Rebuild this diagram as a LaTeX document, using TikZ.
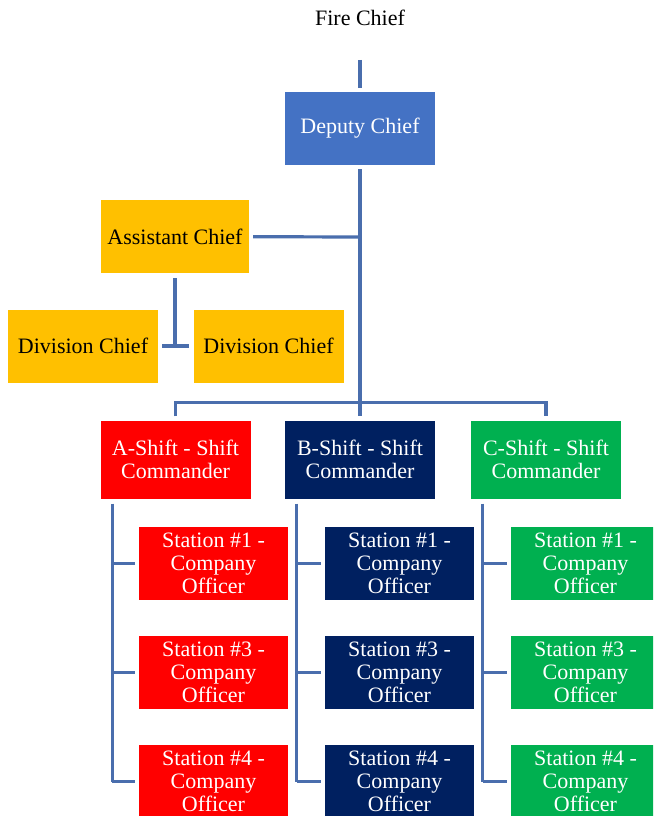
\documentclass[tikz,border=0pt]{standalone}
\usepackage{fontspec}
\setmainfont{Liberation Serif}
\newfontfamily\orgfont{Liberation Serif}
\usepackage{xcolor}
\usepackage{tikz}
\usetikzlibrary{positioning}
\definecolor{cBlue}{HTML}{4472C4}
\definecolor{cGold}{HTML}{FFC000}
\definecolor{cRed}{HTML}{FF0000}
\definecolor{cNavy}{HTML}{002060}
\definecolor{cGreen}{HTML}{00B050}
\definecolor{cLink}{HTML}{4A6EAD}
\begin{document}
\begin{tikzpicture}[x=1pt, y=-1pt,
  box/.style={rectangle, minimum width=150pt, minimum height=73pt, inner sep=0pt, align=center, text=white, font=\orgfont\fontsize{22}{23}\selectfont},
  gold/.style={box, fill=cGold, text=black},
  shiftbox/.style={box, minimum height=78pt},
  stn/.style={box, minimum width=149pt},
  link/.style={draw=cLink, line width=3.2pt},
  gap/.style={shorten >=4pt}]
\useasboundingbox (0,0) rectangle (653,816);
\clip (0,0) rectangle (653,816);
\node[font=\orgfont\fontsize{22}{24}\selectfont] (fc) at (360,18) {Fire Chief};
\coordinate (fcend) at (360,60);
\node[box, fill=cBlue] (dc) at (360,128.5) {Deputy Chief};
\node[gold, minimum width=148pt] (ac) at (175,236.5) {Assistant Chief};
\node[gold] (dv1) at (83,346) {Division Chief};
\node[gold] (dv2) at (268.5,346) {Division Chief};
\coordinate (hub) at (360,237);
\coordinate (bar) at (360,402.5);
\node[shiftbox, fill=cRed] (sa) at (175.5,459.5) {A-Shift - Shift\\Commander};
\node[shiftbox, fill=cNavy] (sb) at (360,459.5) {B-Shift - Shift\\Commander};
\node[shiftbox, fill=cGreen] (sc) at (546,459.5) {C-Shift - Shift\\Commander};
\node[stn, fill=cRed] (a1) at (213.5,563.5) {Station \#1 -\\Company\\Officer};
\node[stn, fill=cRed] (a3) at (213.5,672.5) {Station \#3 -\\Company\\Officer};
\node[stn, fill=cRed] (a4) at (213.5,781.5) {Station \#4 -\\Company\\Officer};
\node[stn, fill=cNavy] (b1) at (399.5,563.5) {Station \#1 -\\Company\\Officer};
\node[stn, fill=cNavy] (b3) at (399.5,672.5) {Station \#3 -\\Company\\Officer};
\node[stn, fill=cNavy] (b4) at (399.5,781.5) {Station \#4 -\\Company\\Officer};
\node[stn, fill=cGreen] (c1) at (585.5,563.5) {Station \#1 -\\Company\\Officer};
\node[stn, fill=cGreen] (c3) at (585.5,672.5) {Station \#3 -\\Company\\Officer};
\node[stn, fill=cGreen] (c4) at (585.5,781.5) {Station \#4 -\\Company\\Officer};
\draw[link, gap] (fcend) -- (dc);
\draw[link, shorten <=4pt] (dc) -- (bar);
\draw[link, shorten <=4pt] (ac) -- (hub);
\draw[link, shorten <=5pt] (ac) -- (ac |- dv1);
\draw[link, shorten <=4pt, shorten >=4pt] (dv1) -- (dv2);
\draw[link, shorten <=4pt, shorten >=4pt] (sa) |- (bar) -| (sc);
\draw[link, gap] (bar) -- (sb);
\foreach \s/\t in {sa/a, sb/b, sc/c} {
  \coordinate (\s t) at ([xshift=12pt]\s.south west);
  \draw[link, shorten <=5pt] (\s t) -- (\s t |- \t4);
  \foreach \k in {1,3,4}
    \draw[link, gap] (\s t |- \t\k) -- (\t\k);
}
\end{tikzpicture}
\end{document}
